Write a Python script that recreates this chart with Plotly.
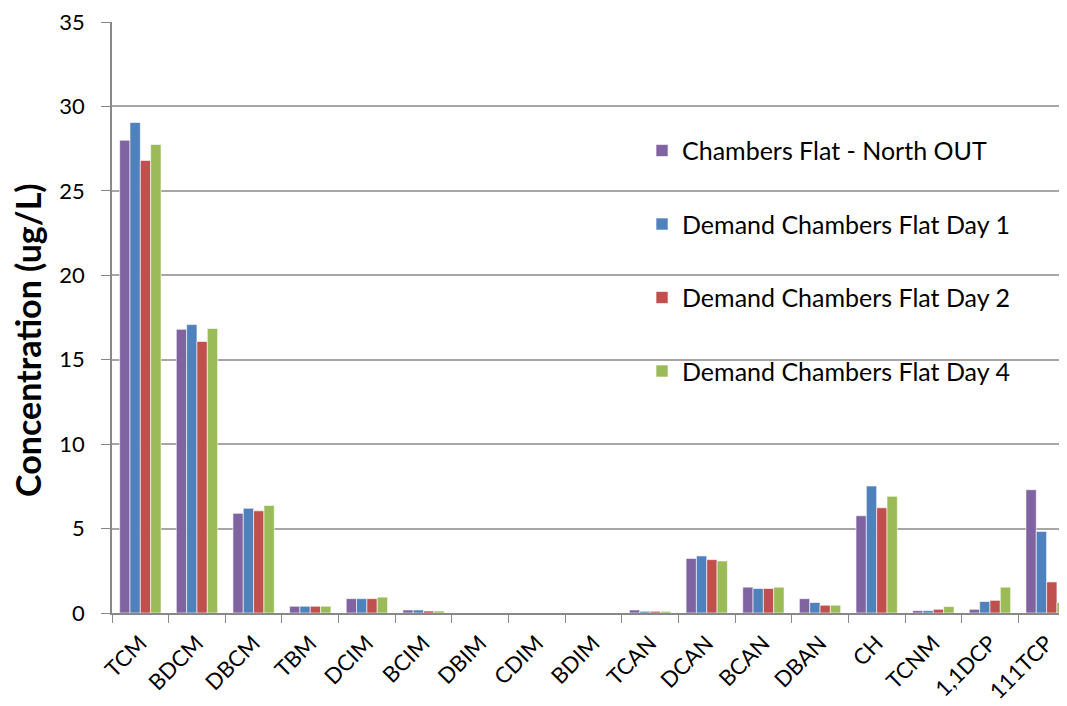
import plotly.graph_objects as go

categories = ["TCM", "BDCM", "DBCM", "TBM", "DCIM", "BCIM", "DBIM", "CDIM", "BDIM",
              "TCAN", "DCAN", "BCAN", "DBAN", "CH", "TCNM", "1,1DCP", "111TCP"]

north_out = [28.0, 16.8, 5.9, 0.4, 0.85, 0.18, 0, 0, 0, 0.18, 3.23, 1.53, 0.85, 5.76, 0.14, 0.22, 7.3]
day1 = [29.05, 17.08, 6.2, 0.4, 0.85, 0.18, 0, 0, 0, 0.1, 3.38, 1.45, 0.62, 7.52, 0.14, 0.68, 4.83]
day2 = [26.8, 16.08, 6.05, 0.4, 0.85, 0.12, 0, 0, 0, 0.1, 3.16, 1.45, 0.46, 6.23, 0.22, 0.75, 1.84]
day4 = [27.75, 16.85, 6.37, 0.4, 0.94, 0.12, 0, 0, 0, 0.1, 3.08, 1.53, 0.46, 6.91, 0.38, 1.53, 0.62]

series_names = ["Chambers Flat - North OUT", "Demand Chambers Flat Day 1",
                "Demand Chambers Flat Day 2", "Demand Chambers Flat Day 4"]
series_values = [north_out, day1, day2, day4]
colors = ["#8064A2", "#4F81BD", "#C0504D", "#9BBB59"]

y_ticks = [0, 5, 10, 15, 20, 25, 30, 35]
y_title = "Concentration (ug/L)"

FONT = "Lato"

fig = go.Figure()
for i, (name, vals, col) in enumerate(zip(series_names, series_values, colors)):
    fig.add_trace(go.Bar(
        x=categories, y=vals, name=name,
        marker=dict(color=col, line=dict(color="rgba(255,255,255,0.6)", width=1)),
        legendgroup=f"g{i}",
    ))

fig.update_layout(
    width=1059, height=698,
    margin=dict(l=104, r=0, t=14, b=93, autoexpand=False),
    paper_bgcolor="white", plot_bgcolor="white",
    barmode="group", bargap=0.27, bargroupgap=0,
    font=dict(family=FONT, size=22, color="black"),
    legend=dict(
        x=0.555, y=0.821, xanchor="left", yanchor="top",
        bgcolor="rgba(0,0,0,0)", font=dict(family=FONT, size=25),
        tracegroupgap=38,
    ),
    showlegend=True,
    annotations=[dict(
        text=f"<b>{y_title}</b>", textangle=-90,
        xref="paper", yref="paper", x=-0.088, y=0.462,
        xanchor="center", yanchor="middle", showarrow=False,
        font=dict(family=FONT, size=34, color="black"),
    )],
)
fig.update_xaxes(
    type="category", range=[-0.5, 16.36], automargin=False,
    tickson="boundaries", ticks="outside", ticklen=8, tickcolor="#888888",
    tickangle=-45, tickfont=dict(family=FONT, size=22),
    ticklabelstandoff=7, ticklabeloverflow="allow",
    showline=True, linecolor="#888888", linewidth=1.5,
    showgrid=False,
)
fig.update_yaxes(
    range=[0, 35], tickvals=y_ticks, automargin=False,
    ticks="outside", ticklen=9, tickcolor="#888888",
    tickfont=dict(family=FONT, size=22),
    ticklabelstandoff=12, ticklabeloverflow="allow",
    showline=True, linecolor="#888888", linewidth=1.5,
    showgrid=True, gridcolor="#A6A6A6", gridwidth=1.5,
    zeroline=False,
)

fig.write_html("out.html")
